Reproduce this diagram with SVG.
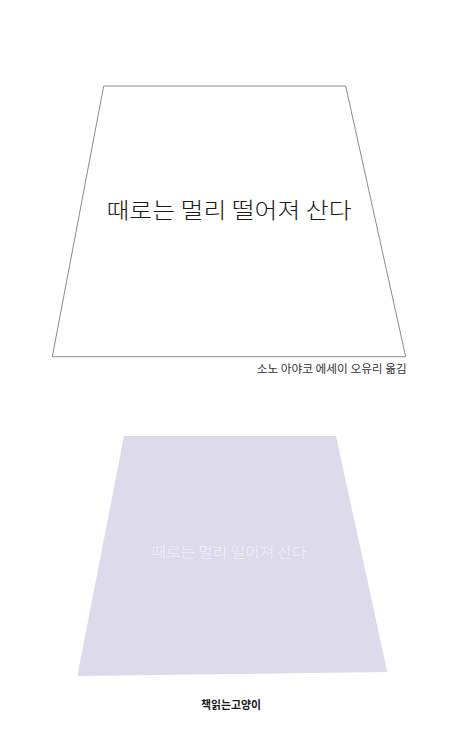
<svg xmlns="http://www.w3.org/2000/svg" width="458" height="752" viewBox="0 0 458 752">
<style>
.k{font-family:"Noto Sans CJK KR","Noto Sans CJK SC",sans-serif}
</style>
<rect width="458" height="752" fill="#ffffff"/>
<g id="top-frame">
<polygon points="103.7,86 345.7,86 405.7,356.7 52.3,356.7" fill="#ffffff" stroke="#8a8a8a" stroke-width="1"/>
<text class="k" x="229" y="218" font-size="22" font-weight="300" fill="#1a1a1a" text-anchor="middle" textLength="245" lengthAdjust="spacingAndGlyphs">때로는 멀리 떨어져 산다</text>
</g>
<g id="author">
<text class="k" x="406.7" y="373" font-size="11.5" font-weight="400" fill="#333333" text-anchor="end" textLength="150" lengthAdjust="spacingAndGlyphs">소노 아야코 에세이 오유리 옮김</text>
</g>
<g id="bottom-frame">
<polygon points="124,436 336,436 387.3,672 77.3,676" fill="#dcdaeb"/>
<text class="k" x="229" y="556.7" font-size="14" font-weight="300" fill="#f2f1f8" text-anchor="middle" textLength="155" lengthAdjust="spacingAndGlyphs">때로는 멀리 떨어져 산다</text>
</g>
<g id="publisher">
<text class="k" x="231" y="709" font-size="11.5" font-weight="700" fill="#1a1a1a" text-anchor="middle" textLength="60" lengthAdjust="spacingAndGlyphs">책읽는고양이</text>
</g>
</svg>
